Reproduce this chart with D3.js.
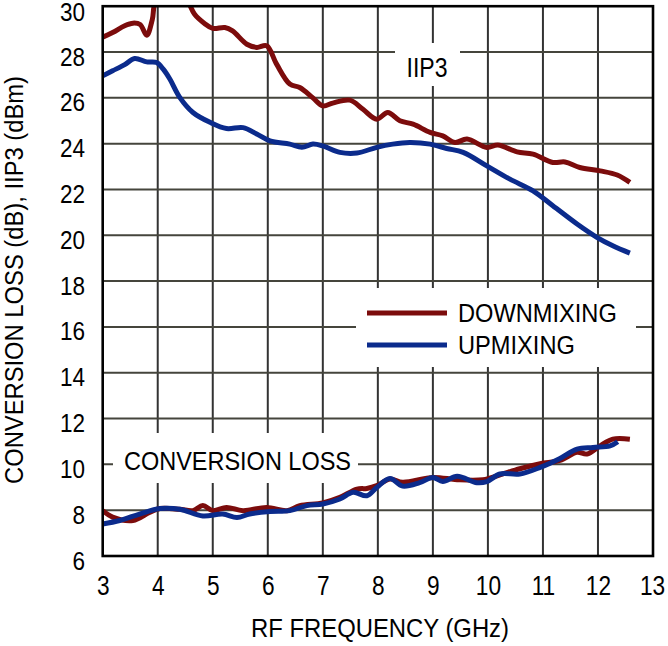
<!DOCTYPE html>
<html>
<head>
<meta charset="utf-8">
<script src="https://cdn.jsdelivr.net/npm/d3@7"></script>
<style>
  html, body { margin: 0; padding: 0; background: #fff; }
  svg { display: block; }
  text { font-family: "Liberation Sans", Arial, sans-serif; fill: #000; }
</style>
</head>
<body>
<svg id="chart" width="668" height="646"></svg>
<script>
// ---- data ----
const xTicks = [3, 4, 5, 6, 7, 8, 9, 10, 11, 12, 13];
const yTicks = [6, 8, 10, 12, 14, 16, 18, 20, 22, 24, 26, 28, 30];

const downIIP3Freq = [3.0, 3.18, 3.4, 3.55, 3.68, 3.8, 3.9, 3.97, 4.3, 4.55, 4.67, 4.85, 5.0, 5.22, 5.36, 5.62, 5.8, 5.98, 6.16, 6.4, 6.58, 6.82, 7.0, 7.18, 7.49, 7.73, 7.98, 8.18, 8.4, 8.64, 8.95, 9.18, 9.4, 9.62, 9.98, 10.18, 10.53, 10.82, 11.18, 11.4, 11.67, 12.04, 12.35, 12.58];
const downIIP3 = [28.65, 28.85, 29.15, 29.26, 29.2, 28.73, 29.4, 30.3, 31.0, 30.2, 29.65, 29.25, 29.03, 29.07, 28.92, 28.34, 28.2, 28.27, 27.47, 26.6, 26.45, 26.0, 25.65, 25.77, 25.9, 25.5, 25.07, 25.36, 25.0, 24.85, 24.49, 24.34, 24.05, 24.2, 23.83, 23.94, 23.64, 23.54, 23.18, 23.2, 22.96, 22.81, 22.63, 22.31];

const upIIP3Freq = [3.0, 3.18, 3.4, 3.58, 3.8, 3.98, 4.1, 4.22, 4.4, 4.64, 4.95, 5.25, 5.55, 5.8, 6.04, 6.4, 6.62, 6.82, 7.0, 7.31, 7.62, 7.98, 8.27, 8.58, 8.95, 9.25, 9.55, 9.98, 10.4, 10.82, 11.18, 11.62, 11.98, 12.27, 12.58];
const upIIP3 = [26.96, 27.18, 27.45, 27.72, 27.57, 27.54, 27.25, 26.82, 26.02, 25.36, 24.93, 24.66, 24.7, 24.42, 24.12, 23.98, 23.84, 23.98, 23.9, 23.62, 23.59, 23.84, 23.98, 24.05, 23.98, 23.79, 23.62, 23.03, 22.45, 21.94, 21.29, 20.49, 19.91, 19.54, 19.22];

const downCLFreq = [3.0, 3.18, 3.55, 3.85, 4.04, 4.4, 4.64, 4.82, 5.0, 5.25, 5.55, 5.98, 6.35, 6.58, 7.0, 7.31, 7.62, 7.8, 7.98, 8.22, 8.45, 9.0, 9.44, 9.91, 10.22, 10.58, 10.95, 11.31, 11.62, 11.8, 12.04, 12.27, 12.58];
const downCL = [7.98, 7.7, 7.55, 7.9, 8.07, 8.04, 7.98, 8.2, 7.98, 8.12, 7.98, 8.12, 7.98, 8.2, 8.32, 8.56, 8.92, 8.95, 9.07, 9.36, 9.22, 9.43, 9.33, 9.33, 9.54, 9.81, 10.03, 10.17, 10.53, 10.45, 10.81, 11.1, 11.1];

const upCLFreq = [3.0, 3.31, 3.67, 4.04, 4.4, 4.82, 5.18, 5.44, 5.67, 6.04, 6.4, 6.71, 7.0, 7.31, 7.55, 7.8, 7.98, 8.22, 8.45, 8.76, 9.0, 9.18, 9.44, 9.8, 9.98, 10.22, 10.58, 10.95, 11.31, 11.62, 11.91, 12.22, 12.36];
const upCL = [7.4, 7.55, 7.83, 8.07, 8.04, 7.75, 7.83, 7.68, 7.83, 7.94, 7.98, 8.2, 8.27, 8.49, 8.78, 8.63, 8.99, 9.38, 9.05, 9.2, 9.43, 9.25, 9.48, 9.2, 9.25, 9.58, 9.58, 9.87, 10.26, 10.67, 10.74, 10.81, 10.99];

const seriesNames = ["DOWNMIXING", "UPMIXING"];
const seriesColors = ["#7c0c0c", "#0b2b8c"];

// ---- layout ----
const svg = d3.select("#chart");
const L = 102.7, R = 653, T = 6.2, B = 556;
const x = d3.scaleLinear().domain([3, 13]).range([L, R]);
const y = d3.scaleLinear().domain([6, 30]).range([B, T]);

function condense(sel, f) {
  sel.each(function () {
    const w = this.getComputedTextLength();
    d3.select(this).attr("textLength", w * f).attr("lengthAdjust", "spacingAndGlyphs");
  });
}

// gridlines
const grid = svg.append("g");
grid.selectAll("line.v").data(xTicks.slice(1, -1)).join("line")
  .attr("x1", d => x(d)).attr("x2", d => x(d)).attr("y1", T).attr("y2", B)
  .attr("stroke", "#333").attr("stroke-width", 2);
grid.selectAll("line.h").data(yTicks.slice(1, -1)).join("line")
  .attr("y1", d => y(d)).attr("y2", d => y(d)).attr("x1", L).attr("x2", R)
  .attr("stroke", "#45453c").attr("stroke-width", 2);

// white label boxes
const boxes = [
  {x0: 395, x1: 460, y0: 43, y1: 86},
  {x0: 356, x1: 636, y0: 288, y1: 367},
  {x0: 113, x1: 358, y0: 433, y1: 483}
];
svg.append("g").selectAll("rect").data(boxes).join("rect")
  .attr("x", d => d.x0).attr("y", d => d.y0)
  .attr("width", d => d.x1 - d.x0).attr("height", d => d.y1 - d.y0)
  .attr("fill", "#fff");

// curves
svg.append("clipPath").attr("id", "clip").append("rect")
  .attr("x", L).attr("y", T).attr("width", R - L).attr("height", B - T);
const line = d3.line().x(d => x(d[0])).y(d => y(d[1])).curve(d3.curveCatmullRom.alpha(0.5));
const zip = (a, b) => a.map((v, i) => [v, b[i]]);
const curves = [
  {data: zip(downIIP3Freq, downIIP3), c: 0},
  {data: zip(downCLFreq, downCL), c: 0},
  {data: zip(upIIP3Freq, upIIP3), c: 1},
  {data: zip(upCLFreq, upCL), c: 1}
];
svg.append("g").attr("clip-path", "url(#clip)").selectAll("path").data(curves).join("path")
  .attr("d", d => line(d.data))
  .attr("fill", "none")
  .attr("stroke", d => seriesColors[d.c])
  .attr("stroke-width", 5)
  .attr("stroke-linejoin", "round");

// frame
svg.append("rect").attr("x", L).attr("y", T).attr("width", R - L).attr("height", B - T)
  .attr("fill", "none").attr("stroke", "#000").attr("stroke-width", 2.6);

// axes
const yAxis = svg.append("g").attr("transform", `translate(${L},0)`)
  .call(d3.axisLeft(y).tickValues(yTicks).tickSize(0).tickPadding(17.7));
yAxis.select(".domain").remove();
yAxis.selectAll("text").attr("font-size", 25).attr("font-family", "Liberation Sans, Arial, sans-serif")
  .attr("fill", "#000").attr("y", d => d === 30 ? 6 : 5);
condense(yAxis.selectAll("text"), 0.9);

const xAxis = svg.append("g").attr("transform", `translate(0,${B})`)
  .call(d3.axisBottom(x).tickValues(xTicks).tickSize(0));
xAxis.select(".domain").remove();
xAxis.selectAll("text").attr("font-size", 27).attr("font-family", "Liberation Sans, Arial, sans-serif")
  .attr("fill", "#000").attr("y", 39).attr("dy", 0)
  .attr("x", d => d === 13 ? -1 : 0);
condense(xAxis.selectAll("text"), 0.84);

// axis titles
const xt = svg.append("text").attr("x", 380).attr("y", 637).attr("text-anchor", "middle")
  .attr("font-size", 26).text("RF FREQUENCY (GHz)");
xt.attr("textLength", 258).attr("lengthAdjust", "spacingAndGlyphs");

const yt = svg.append("text").attr("transform", "translate(23,280) rotate(-90)")
  .attr("text-anchor", "middle").attr("font-size", 26).text("CONVERSION LOSS (dB), IIP3 (dBm)");
yt.attr("textLength", 408).attr("lengthAdjust", "spacingAndGlyphs");

// in-plot labels
svg.append("text").attr("x", 427).attr("y", 77).attr("text-anchor", "middle")
  .attr("font-size", 28).attr("textLength", 41).attr("lengthAdjust", "spacingAndGlyphs").text("IIP3");
svg.append("text").attr("x", 124).attr("y", 470)
  .attr("font-size", 25).attr("textLength", 227).attr("lengthAdjust", "spacingAndGlyphs").text("CONVERSION LOSS");

// legend
const lg = svg.append("g");
const legY = [313, 345];
seriesNames.forEach((n, i) => {
  lg.append("line").attr("x1", 367).attr("x2", 447).attr("y1", legY[i]).attr("y2", legY[i])
    .attr("stroke", seriesColors[i]).attr("stroke-width", 5);
  const t = lg.append("text").attr("x", 458).attr("y", legY[i] + 9).attr("font-size", 25).text(n);
  condense(t, 0.945);
});
</script>
</body>
</html>
